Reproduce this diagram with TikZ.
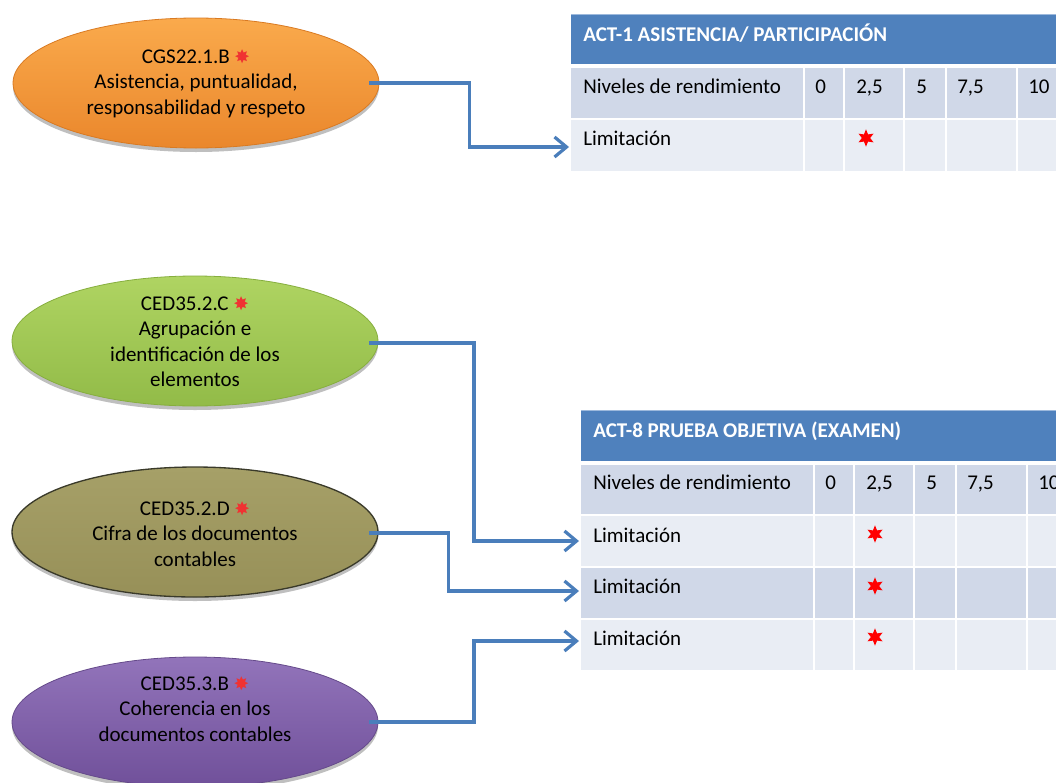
\documentclass[tikz,border=0pt]{standalone}
\usepackage{fontspec}
\setmainfont{Carlito}
\newfontfamily\symfont{DejaVu Sans}
\usetikzlibrary{shapes.geometric,shadows,arrows.meta,calc}

\definecolor{hdrblue}{HTML}{4F81BD}
\definecolor{hdredge}{HTML}{9DB9DC}
\definecolor{rowdark}{HTML}{D0D8E8}
\definecolor{rowlight}{HTML}{E9EDF4}
\definecolor{linkblue}{HTML}{4A7EBB}
\definecolor{orangeTop}{HTML}{FAAA4C}
\definecolor{orangeBot}{HTML}{EA872C}
\definecolor{orangeRim}{HTML}{D97A22}
\definecolor{greenTop}{HTML}{AFD462}
\definecolor{greenBot}{HTML}{92BB48}
\definecolor{greenRim}{HTML}{86AE3E}
\definecolor{oliveTop}{HTML}{A6A068}
\definecolor{oliveBot}{HTML}{979058}
\definecolor{oliveRim}{HTML}{3A3A2A}
\definecolor{purpleTop}{HTML}{9274BA}
\definecolor{purpleBot}{HTML}{70509A}
\definecolor{purpleRim}{HTML}{654A8A}
\definecolor{markred}{HTML}{F03232}

% small red star that follows each competence code
\newcommand{\redmark}{{\symfont\fontsize{14}{14}\selectfont\textcolor{markred}{✸}}}

\tikzset{
  oval/.style={ellipse, minimum width=274.5pt, minimum height=97.5pt, inner sep=0pt,
    line width=0.6pt,
    drop shadow={shadow xshift=0pt, shadow yshift=-3pt, opacity=0.25, fill=black}},
  ovaltext/.style={align=center, anchor=north, inner sep=0pt},
  celltxt/.style={anchor=base west, inner sep=0pt},
  hdrtxt/.style={celltxt, text=white, font=\bfseries\fontsize{15.75}{19}\selectfont},
  link/.style={draw=linkblue, line width=2.4pt, line join=miter,
    -{Straight Barb[length=9pt,width=15pt]}},
  redstar/.style={star, star points=6, star point ratio=2.1, fill=red, draw=none,
    minimum size=13pt, inner sep=0pt},
  gapline/.style={white, line width=1.5pt},
  hdrgap/.style={white, line width=3pt},
}

\begin{document}
\begin{tikzpicture}[x=0.75pt, y=-0.75pt, font=\fontsize{15.75}{19.1}\selectfont]
\useasboundingbox (0,0) rectangle (1056,782);
\clip (0,0) rectangle (1056,782);

% ---------- competence ovals ----------
\node[oval, top color=orangeTop, bottom color=orangeBot, draw=orangeRim] (cgs) at (196,83) {};
\node[ovaltext] (cgsT) at (196,49) {CGS22.1.B \redmark\\Asistencia, puntualidad,\\responsabilidad y respeto};

\node[oval, top color=greenTop, bottom color=greenBot, draw=greenRim] (cedC) at (195,341) {};
\node[ovaltext] (cedCT) at (195,296) {CED35.2.C \redmark\\Agrupación e\\identificación de los\\elementos};

\node[oval, top color=oliveTop, bottom color=oliveBot, draw=oliveRim, line width=1pt] (cedD) at (195,532) {};
\node[ovaltext] (cedDT) at (195,501) {CED35.2.D \redmark\\Cifra de los documentos\\contables};

\node[oval, top color=purpleTop, bottom color=purpleBot, draw=purpleRim] (cedB) at (195,722) {};
\node[ovaltext] (cedBT) at (195,676) {CED35.3.B \redmark\\Coherencia en los\\documentos contables};

% ---------- table ACT-1 ----------
\fill[hdrblue] (571,14) rectangle (1070,66);
\draw[hdredge, line width=0.75pt] (571,14.5) -- (1070,14.5);
\fill[rowdark] (571,66) rectangle (1070,119);
\fill[rowlight] (571,119) rectangle (1070,171);
\draw[hdrgap] (571,66) -- (1070,66);
\draw[gapline] (571,119) -- (1070,119);
\foreach \c in {803.5,843.5,903.5,945.5,1016.5}
  \draw[gapline] (\c,66) -- (\c,171);

\node[hdrtxt] (t1h) at (583,41) {ACT-1 ASISTENCIA/ PARTICIPACIÓN};
\node[celltxt] (t1n) at (583,93) {Niveles de rendimiento};
\node[celltxt] (t1v0) at (815,93) {0};
\node[celltxt] (t1v1) at (856,93) {2,5};
\node[celltxt] (t1v2) at (916,93) {5};
\node[celltxt] (t1v3) at (957,93) {7,5};
\node[celltxt] (t1v4) at (1028,93) {10};
\node[celltxt] (t1l) at (583,145) {Limitación};
\node[redstar] (t1s) at (866,138) {};
\coordinate (t1in) at (569,147);

% ---------- table ACT-8 ----------
\fill[hdrblue] (581,410) rectangle (1070,462.5);
\draw[hdredge, line width=0.75pt] (581,410.5) -- (1070,410.5);
\fill[rowdark] (581,462.5) rectangle (1070,515);
\fill[rowlight] (581,515) rectangle (1070,567);
\fill[rowdark] (581,567) rectangle (1070,619);
\fill[rowlight] (581,619) rectangle (1070,670);
\draw[hdrgap] (581,462.5) -- (1070,462.5);
\foreach \r in {515,567,619}
  \draw[gapline] (581,\r) -- (1070,\r);
\foreach \c in {813.5,853.5,913.5,955.5,1026.5}
  \draw[gapline] (\c,462.5) -- (\c,670);

\node[hdrtxt] (t2h) at (593,437) {ACT-8 PRUEBA OBJETIVA (EXAMEN)};
\node[celltxt] (t2n) at (593,489) {Niveles de rendimiento};
\node[celltxt] (t2v0) at (825,489) {0};
\node[celltxt] (t2v1) at (866,489) {2,5};
\node[celltxt] (t2v2) at (926,489) {5};
\node[celltxt] (t2v3) at (967,489) {7,5};
\node[celltxt] (t2v4) at (1038,489) {10};
\node[celltxt] (t2l1) at (593,542) {Limitación};
\node[celltxt] (t2l2) at (593,593) {Limitación};
\node[celltxt] (t2l3) at (593,645) {Limitación};
\node[redstar] (t2s1) at (875,534) {};
\node[redstar] (t2s2) at (875,586) {};
\node[redstar] (t2s3) at (875,637) {};
\coordinate (t2in1) at (579,541);
\coordinate (t2in2) at (579,591);
\coordinate (t2in3) at (579,641);

% ---------- connectors ----------
\draw[link] ([xshift=-7.5pt]cgs.east) -- ++(100,0) |- (t1in);
\draw[link] ([xshift=-7pt,yshift=-1.5pt]cedC.east) -- ++(105,0) |- (t2in1);
\draw[link] ([xshift=-7pt,yshift=-0.75pt]cedD.east) -- ++(79,0) |- (t2in2);
\draw[link] ([xshift=-7pt]cedB.east) -- ++(105,0) |- (t2in3);
\end{tikzpicture}
\end{document}
